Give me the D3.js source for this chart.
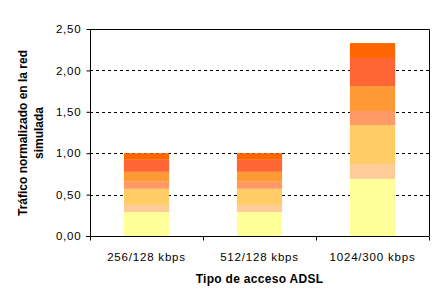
<!DOCTYPE html>
<html>
<head>
<meta charset="utf-8">
<script src="https://cdn.jsdelivr.net/npm/d3@7"></script>
<style>
  body { margin: 0; background: #fff; }
  text { font-family: "Liberation Sans", Arial, sans-serif; }
</style>
</head>
<body>
<div id="chart"></div>
<script>
const categories = ["256/128 kbps", "512/128 kbps", "1024/300 kbps"];
const seriesKeys = ["s1", "s2", "s3", "s4", "s5", "s6", "s7"];
const seriesColors = ["#FFFF99", "#FFCC99", "#FFCC66", "#FF9966", "#FF9933", "#FF6633", "#FF6600"];
// stacked segment values per category (bottom to top)
const s1 = [0.29, 0.29, 0.69];
const s2 = [0.085, 0.085, 0.18];
const s3 = [0.195, 0.195, 0.47];
const s4 = [0.085, 0.085, 0.17];
const s5 = [0.12, 0.12, 0.30];
const s6 = [0.145, 0.145, 0.34];
const s7 = [0.08, 0.08, 0.18];
const yTicks = [0, 0.5, 1, 1.5, 2, 2.5];

const width = 447, height = 299;
const margin = { top: 29, right: 18, bottom: 63, left: 90 };

const table = categories.map((c, i) => ({
  cat: c, s1: s1[i], s2: s2[i], s3: s3[i], s4: s4[i], s5: s5[i], s6: s6[i], s7: s7[i]
}));
const stacked = d3.stack().keys(seriesKeys)(table);

const svg = d3.select("#chart").append("svg")
  .attr("width", width).attr("height", height);

const x = d3.scaleBand()
  .domain(categories)
  .range([margin.left, width - margin.right])
  .paddingInner(0.6)
  .paddingOuter(0.3);

const y = d3.scaleLinear()
  .domain([0, 2.5])
  .range([height - margin.bottom, margin.top]);

const fmt = (d) => d3.format(".2f")(d).replace(".", ",");

// gridlines
svg.append("g")
  .selectAll("line")
  .data(yTicks.filter((d) => d > 0 && d < 2.5))
  .enter()
  .append("line")
  .attr("x1", margin.left)
  .attr("x2", width - margin.right)
  .attr("y1", (d) => Math.round(y(d)) + 0.5)
  .attr("y2", (d) => Math.round(y(d)) + 0.5)
  .attr("stroke", "#000")
  .attr("stroke-dasharray", "3,3");

// bars
svg.append("g")
  .selectAll("g")
  .data(stacked)
  .enter()
  .append("g")
  .attr("fill", (d, i) => seriesColors[i])
  .selectAll("rect")
  .data((d) => d)
  .enter()
  .append("rect")
  .attr("x", (d) => x(d.data.cat))
  .attr("y", (d) => y(d[1]))
  .attr("width", x.bandwidth())
  .attr("height", (d) => y(d[0]) - y(d[1]));

// plot border top/right
svg.append("path")
  .attr("d", `M${margin.left},${margin.top + 0.5}H${width - margin.right + 0.5}V${height - margin.bottom}`)
  .attr("fill", "none")
  .attr("stroke", "#000");

// y axis
const yAxis = d3.axisLeft(y).tickValues(yTicks).tickFormat(fmt).tickSize(4).tickPadding(5);
const gy = svg.append("g")
  .attr("transform", `translate(${margin.left + 0.5},0)`)
  .call(yAxis);
gy.select(".domain").attr("d", `M0,${y(0)}V${y(2.5)}`);
gy.selectAll("text")
  .attr("font-size", "11.5px")
  .attr("letter-spacing", "0.8px")
  .attr("font-family", "Liberation Sans, Arial, sans-serif")
  .attr("fill", "#000");

// x axis
const xAxis = d3.axisBottom(x).tickSize(0).tickPadding(16);
const gx = svg.append("g")
  .attr("transform", `translate(0,${y(0) + 0.5})`)
  .call(xAxis);
gx.select(".domain").remove();
gx.append("line")
  .attr("x1", margin.left - 4).attr("x2", width - margin.right + 0.5)
  .attr("stroke", "#000");
gx.selectAll("text")
  .attr("font-size", "11.5px")
  .attr("letter-spacing", "0.8px")
  .attr("font-family", "Liberation Sans, Arial, sans-serif")
  .attr("fill", "#000");

// category boundary ticks
const bounds = d3.range(categories.length + 1).map((i) => x.range()[0] + i * (x.range()[1] - x.range()[0]) / categories.length);
gx.selectAll(".bt")
  .data(bounds)
  .enter()
  .append("line")
  .attr("class", "bt")
  .attr("x1", (d) => Math.round(d) + 0.5)
  .attr("x2", (d) => Math.round(d) + 0.5)
  .attr("y1", 0)
  .attr("y2", 4)
  .attr("stroke", "#000");

// axis titles
svg.append("text")
  .attr("x", (margin.left + width - margin.right) / 2)
  .attr("y", 283)
  .attr("text-anchor", "middle")
  .attr("font-size", "12px")
  .attr("letter-spacing", "0.3px")
  .attr("font-weight", "bold")
  .text("Tipo de acceso ADSL");

const yt = svg.append("text")
  .attr("transform", "translate(27,133) rotate(-90)")
  .attr("text-anchor", "middle")
  .attr("font-size", "12px")
  .attr("font-weight", "bold");
yt.append("tspan").attr("x", 0).attr("dy", 0).text("Tráfico normalizado en la red");
yt.append("tspan").attr("x", 0).attr("dy", 16).text("simulada");
</script>
</body>
</html>
